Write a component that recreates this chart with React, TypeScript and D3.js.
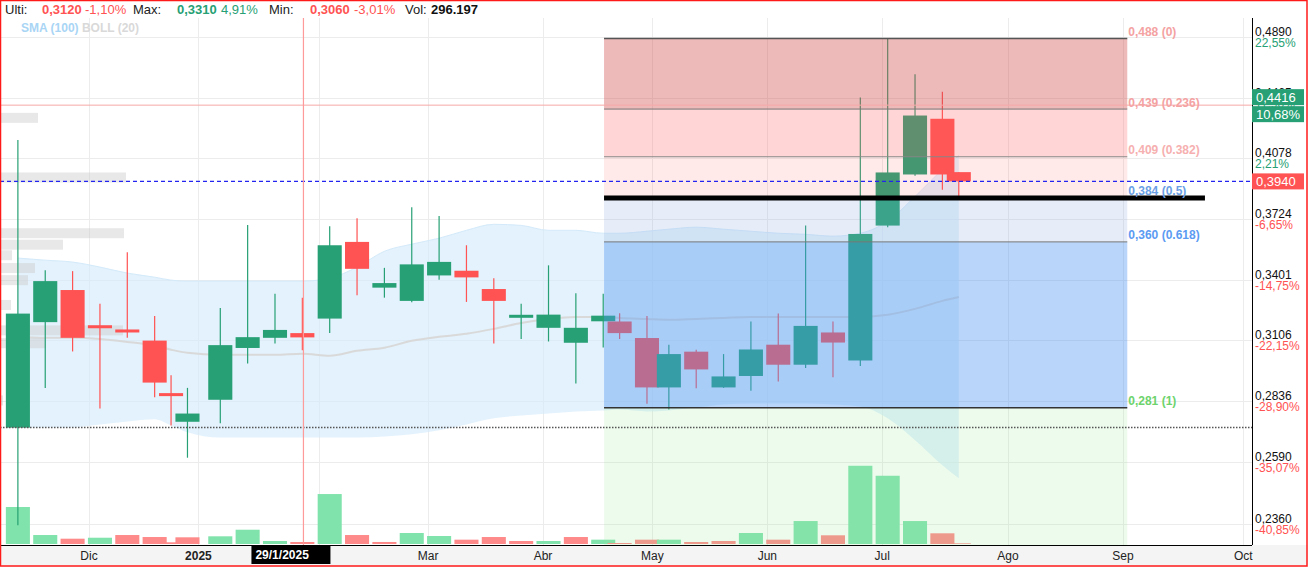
import React from 'react';
import * as d3 from 'd3';

// ---------- DATA ----------
// trading-day index (0 = 2 Dec 2024) of each weekly candle
const weekIdx = [-13, -8, -3, 2, 7, 12, 15, 18, 24, 29, 34, 39, 44, 49, 54, 59, 64, 69, 74, 79, 84, 89, 94, 97, 102, 106, 111, 116, 121, 126, 131, 136, 141, 146, 151, 156, 159];
const opens = [0.2726, 0.3192, 0.3349, 0.3172, 0.3152, 0.3105, 0.2866, 0.2750, 0.2842, 0.3071, 0.3118, 0.3140, 0.3209, 0.3599, 0.3361, 0.3295, 0.3423, 0.3447, 0.3354, 0.3219, 0.3165, 0.3095, 0.3196, 0.3195, 0.3117, 0.2895, 0.3054, 0.2895, 0.2945, 0.3086, 0.2995, 0.3143, 0.3014, 0.3688, 0.3981, 0.4327, 0.3995];
const highs = [0.4192, 0.3450, 0.3445, 0.3281, 0.3544, 0.3222, 0.2948, 0.2893, 0.3260, 0.3691, 0.3331, 0.3310, 0.3684, 0.3728, 0.3462, 0.3791, 0.3741, 0.3581, 0.3409, 0.3281, 0.3475, 0.3333, 0.3331, 0.3235, 0.3222, 0.3086, 0.3063, 0.3043, 0.3195, 0.3233, 0.3689, 0.3195, 0.4467, 0.4880, 0.4625, 0.4505, 0.3995];
const lows = [0.2356, 0.2893, 0.3055, 0.2805, 0.3118, 0.2853, 0.2735, 0.2606, 0.2744, 0.3000, 0.3092, 0.3060, 0.3140, 0.3323, 0.3311, 0.3288, 0.3401, 0.3290, 0.3092, 0.3112, 0.3101, 0.2912, 0.3073, 0.3112, 0.2825, 0.2801, 0.2891, 0.2893, 0.2881, 0.2921, 0.2980, 0.2939, 0.2989, 0.3679, 0.3973, 0.3891, 0.3852];
const closes = [0.3233, 0.3394, 0.3118, 0.3168, 0.3148, 0.2916, 0.2862, 0.2784, 0.3084, 0.3121, 0.3155, 0.3120, 0.3581, 0.3457, 0.3384, 0.3480, 0.3493, 0.3413, 0.3295, 0.3221, 0.3228, 0.3165, 0.3223, 0.3140, 0.2895, 0.3043, 0.2974, 0.2943, 0.3064, 0.2995, 0.3174, 0.3096, 0.3642, 0.3993, 0.4348, 0.3981, 0.3940];
// volume in thousands
const volumes = [5480, 1330, 785, 930, 1330, 1035, 250, 990, 1140, 2115, 445, 296, 7400, 1330, 300, 1630, 1185, 640, 1035, 445, 445, 1035, 640, 150, 640, 640, 296, 445, 1630, 640, 3400, 1290, 11590, 10110, 3400, 1585, 100];
const sma100 = [0.3123, 0.3118, 0.3118, 0.3113, 0.3099, 0.3081, 0.3063, 0.3049, 0.3040, 0.3040, 0.3040, 0.3045, 0.3035, 0.3058, 0.3072, 0.3104, 0.3123, 0.3137, 0.3160, 0.3188, 0.3207, 0.3217, 0.3217, 0.3212, 0.3207, 0.3203, 0.3207, 0.3212, 0.3217, 0.3217, 0.3217, 0.3217, 0.3217, 0.3227, 0.3256, 0.3295, 0.3314];
const bollUpper = [0.3513, 0.3502, 0.3492, 0.3466, 0.3435, 0.3414, 0.3399, 0.3394, 0.3394, 0.3394, 0.3394, 0.3394, 0.3409, 0.3466, 0.3549, 0.3587, 0.3619, 0.3662, 0.3695, 0.3689, 0.3662, 0.3662, 0.3646, 0.3646, 0.3657, 0.3668, 0.3679, 0.3668, 0.3657, 0.3646, 0.3640, 0.3630, 0.3646, 0.3712, 0.3852, 0.4010, 0.4095];
const bollLower = [0.2727, 0.2727, 0.2727, 0.2739, 0.2751, 0.2760, 0.2735, 0.2707, 0.2686, 0.2686, 0.2686, 0.2686, 0.2686, 0.2686, 0.2690, 0.2699, 0.2715, 0.2739, 0.2764, 0.2776, 0.2784, 0.2793, 0.2797, 0.2801, 0.2793, 0.2797, 0.2809, 0.2822, 0.2826, 0.2826, 0.2826, 0.2822, 0.2813, 0.2764, 0.2675, 0.2577, 0.2527];

// price axis ticks
const priceTicks = [0.2360, 0.2590, 0.2836, 0.3106, 0.3401, 0.3724, 0.4078, 0.4465, 0.4890];
const priceTickLabels = ['0,2360', '0,2590', '0,2836', '0,3106', '0,3401', '0,3724', '0,4078', '0,4465', '0,4890'];
const pctTickLabels = ['-40,85%', '-35,07%', '-28,90%', '-22,15%', '-14,75%', '-6,65%', '2,21%', '11,90%', '22,55%'];

// month ticks (trading-day index)
const monthIdx = [0, 20, 42, 62, 83, 103, 124, 145, 168, 189, 211];
const monthLabels = ['Dic', '2025', 'Feb', 'Mar', 'Abr', 'May', 'Jun', 'Jul', 'Ago', 'Sep', 'Oct'];

// fibonacci retracement
const fibHigh = 0.4879;
const fibLow = 0.2808;
const fibLevels = [0, 0.236, 0.382, 0.5, 0.618, 1];
const fibStartIdx = 94.15;
const fibEndIdx = 189.8;
const fibThickEndIdx = 204;

// volume-by-price profile
const profilePrices = [0.4333, 0.3963, 0.3646, 0.3584, 0.3528, 0.3461, 0.3399, 0.3275, 0.3153, 0.3093, 0.2839];
const profileVolumes = [380, 1260, 1240, 630, 120, 350, 280, 110, 1230, 460, 30];

const lastPrice = 0.394;
const markerPrice = 0.4416;
const markerPct = '10,68%';
const basePrice = 0.2726;
const crossIdx = 39.2;
const crossLabel = '29/1/2025';

const headerLabels = ['Ulti:', 'Max:', 'Min:', 'Vol:'];
const headerValues = ['0,3120', '0,3310', '0,3060', '296.197'];
const headerPcts = ['-1,10%', '4,91%', '-3,01%', ''];

// ---------- STYLE ----------
const W = 1308;
const H = 567;
const plotRight = 1252;
const plotTop = 18;
const plotBottom = 545;
const GREEN = '#26a074';
const RED = '#ff5252';
const FONT = 'Liberation Sans, Arial, sans-serif';

const fmt = (v: number, d: number) => v.toFixed(d).replace('.', ',');

export default function App() {
  const x = d3.scaleLinear().domain([-16.27, 212.6]).range([0, plotRight]);
  const y = d3.scaleLog().domain([0.236, 0.489]).range([524, 37]);
  const yVol = d3.scaleLinear().domain([0, 12000]).range([544, 463]);
  const profW = d3.scaleLinear().domain([0, 1300]).range([0, 130]);

  const bodyW = x(4.4) - x(0);
  const n = weekIdx.length;
  const ids = d3.range(n);

  const bandArea = d3
    .area<number>()
    .x((i) => x(weekIdx[i]))
    .y0((i) => y(bollLower[i]))
    .y1((i) => y(bollUpper[i]))
    .curve(d3.curveMonotoneX);
  const upperLine = d3
    .line<number>()
    .x((i) => x(weekIdx[i]))
    .y((i) => y(bollUpper[i]))
    .curve(d3.curveMonotoneX);
  const smaLine = d3
    .line<number>()
    .x((i) => x(weekIdx[i]))
    .y((i) => y(sma100[i]))
    .curve(d3.curveMonotoneX);

  const fibPrice = (l: number) => fibHigh - l * (fibHigh - fibLow);
  const fx0 = x(fibStartIdx);
  const fx1 = x(fibEndIdx);
  const zoneFills = [
    'rgba(210,80,80,0.40)',
    'rgba(255,100,100,0.27)',
    'rgba(255,100,100,0.14)',
    'rgba(140,175,225,0.22)',
    'rgba(80,150,240,0.40)',
  ];
  const lineStyles = [
    { c: '#555', w: 1.3 },
    { c: '#777', w: 1 },
    { c: '#888', w: 1 },
    { c: '#000', w: 5 },
    { c: '#777', w: 1 },
    { c: '#333', w: 1.5 },
  ];
  const labelColors = ['#f4a2a2', '#f4a2a2', '#f6b0b0', '#6a9fe6', '#5b9bf2', '#6dd36d'];

  const headerX = [[5, 42, 85], [133, 177, 221], [269, 310, 354], [405, 431, 0]];
  const headerColors = [RED, GREEN, RED, '#111'];

  return (
    <svg width={W} height={H} style={{ position: 'absolute', left: 0, top: 0, background: '#fff' }} fontFamily={FONT}>
      <defs>
        <clipPath id="plot">
          <rect x={0} y={plotTop} width={plotRight} height={plotBottom - plotTop} />
        </clipPath>
      </defs>
      <rect x={0} y={0} width={W} height={H} fill="#fff" />

      {/* grid */}
      <g stroke="#ececec" strokeWidth={1}>
        {priceTicks.map((p, i) => (
          <line key={'h' + i} x1={0} x2={plotRight} y1={Math.round(y(p)) + 0.5} y2={Math.round(y(p)) + 0.5} />
        ))}
        {monthIdx.map((m, i) => (
          <line key={'v' + i} x1={Math.round(x(m)) + 0.5} x2={Math.round(x(m)) + 0.5} y1={plotTop} y2={plotBottom} />
        ))}
      </g>

      <g clipPath="url(#plot)">
        {/* bollinger band */}
        <path d={bandArea(ids) || ''} fill="#d2eafa" fillOpacity={0.62} />
        <path d={upperLine(ids) || ''} fill="none" stroke="#d4eafa" strokeWidth={1} />
        {/* sma */}
        <path d={smaLine(ids) || ''} fill="none" stroke="#d9d9d9" strokeWidth={2} />

        {/* volume profile */}
        {profilePrices.map((p, i) => (
          <rect key={'pf' + i} x={0} y={y(p) - 5} width={profW(profileVolumes[i])} height={10} fill="rgba(205,205,205,0.45)" />
        ))}

        {/* volume bars */}
        {ids.map((i) => {
          const up = i === 0 || closes[i] >= closes[i - 1];
          const cx = x(weekIdx[i]);
          return (
            <rect
              key={'vb' + i}
              x={cx - bodyW / 2}
              y={yVol(volumes[i])}
              width={bodyW}
              height={yVol(0) - yVol(volumes[i])}
              fill={up ? '#81e3ac' : '#ff8a8a'}
            />
          );
        })}

        {/* candles */}
        {ids.map((i) => {
          const up = closes[i] >= opens[i];
          const col = up ? GREEN : RED;
          const cx = x(weekIdx[i]);
          const top = y(Math.max(opens[i], closes[i]));
          const bot = y(Math.min(opens[i], closes[i]));
          let h = bot - top;
          let t = top;
          if (h < 3) {
            t = (top + bot) / 2 - 1.5;
            h = 3;
          }
          return (
            <g key={'c' + i}>
              <line x1={cx} x2={cx} y1={y(highs[i])} y2={y(lows[i])} stroke={col} strokeWidth={1.2} />
              <rect x={cx - bodyW / 2} y={t} width={bodyW} height={h} fill={col} />
            </g>
          );
        })}

        {/* fibonacci zones */}
        {fibLevels.slice(0, -1).map((l, i) => {
          const y0 = y(fibPrice(l));
          const y1 = y(fibPrice(fibLevels[i + 1]));
          return <rect key={'fz' + i} x={fx0} y={y0} width={fx1 - fx0} height={y1 - y0} fill={zoneFills[i]} />;
        })}
        <rect x={fx0} y={y(fibLow)} width={fx1 - fx0} height={plotBottom - y(fibLow)} fill="rgba(150,230,150,0.17)" />
        {fibLevels.map((l, i) => {
          const yy = y(fibPrice(l));
          const xe = l === 0.5 ? x(fibThickEndIdx) : fx1;
          return <line key={'fl' + i} x1={fx0} x2={xe} y1={yy} y2={yy} stroke={lineStyles[i].c} strokeWidth={lineStyles[i].w} />;
        })}

        {/* horizontal reference lines */}
        <line x1={0} x2={plotRight} y1={y(markerPrice)} y2={y(markerPrice)} stroke="#f7a8a8" strokeWidth={1} />
        <line x1={0} x2={plotRight} y1={y(lastPrice)} y2={y(lastPrice)} stroke="#2424f0" strokeWidth={1.2} strokeDasharray="4 3" />
        <line x1={0} x2={plotRight} y1={y(basePrice)} y2={y(basePrice)} stroke="#555" strokeWidth={1.5} strokeDasharray="1.5 1.5" />

        {/* crosshair */}
        <line x1={x(crossIdx)} x2={x(crossIdx)} y1={plotTop} y2={plotBottom} stroke="#ff9a9a" strokeWidth={1.2} />
      </g>

      {/* fib labels */}
      {fibLevels.map((l, i) => (
        <text key={'ft' + i} x={fx1 + 1} y={y(fibPrice(l)) - 2.5} fontSize={12} fontWeight="bold" fill={labelColors[i]}>
          {`${fmt(fibPrice(l), 3)} (${l})`}
        </text>
      ))}

      {/* axes */}
      <rect x={0} y={plotBottom} width={W} height={H - plotBottom} fill="#f4f4f4" />
      <line x1={0} x2={plotRight} y1={plotBottom + 0.5} y2={plotBottom + 0.5} stroke="#000" strokeWidth={1} />
      <line x1={plotRight + 0.5} x2={plotRight + 0.5} y1={plotTop} y2={plotBottom} stroke="#000" strokeWidth={1} />

      {priceTicks.map((p, i) => (
        <g key={'pt' + i}>
          <text x={plotRight + 3} y={y(p) - 1} fontSize={12} fill="#111">
            {priceTickLabels[i]}
          </text>
          <text x={plotRight + 3} y={y(p) + 10} fontSize={12} fill={pctTickLabels[i].startsWith('-') ? RED : GREEN}>
            {pctTickLabels[i]}
          </text>
        </g>
      ))}

      {monthIdx.map((m, i) => (
        <text
          key={'ml' + i}
          x={x(m)}
          y={560}
          fontSize={12}
          textAnchor="middle"
          fill="#222"
          fontWeight={monthLabels[i] === '2025' ? 'bold' : 'normal'}
        >
          {monthLabels[i]}
        </text>
      ))}

      {/* crosshair date label */}
      <rect x={x(crossIdx) - 52} y={546} width={79} height={18} fill="#000" />
      <text x={x(crossIdx) - 48} y={559} fontSize={12} fontWeight="bold" fill="#fff">
        {crossLabel}
      </text>

      {/* price tags */}
      <rect x={plotRight} y={y(markerPrice) - 16} width={52} height={16} fill={GREEN} />
      <text x={plotRight + 4} y={y(markerPrice) - 3.5} fontSize={13} fill="#fff">
        {fmt(markerPrice, 4)}
      </text>
      <rect x={plotRight} y={y(markerPrice) + 1} width={52} height={16} fill={GREEN} />
      <text x={plotRight + 4} y={y(markerPrice) + 13.5} fontSize={13} fill="#fff">
        {markerPct}
      </text>
      <rect x={plotRight} y={y(lastPrice) - 8} width={52} height={16} fill={RED} />
      <text x={plotRight + 4} y={y(lastPrice) + 4.5} fontSize={13} fill="#fff">
        {fmt(lastPrice, 4)}
      </text>

      {/* header */}
      <rect x={0} y={0} width={W} height={plotTop - 1} fill="#fff" />
      {headerLabels.map((lab, i) => (
        <text key={'hd' + i} y={14} fontSize={13}>
          <tspan x={headerX[i][0]} fill="#222">
            {lab}
          </tspan>
          <tspan x={headerX[i][1]} fill={headerColors[i]} fontWeight="bold">
            {headerValues[i]}
          </tspan>
          {headerPcts[i] && (
            <tspan x={headerX[i][2]} fill={headerColors[i]}>
              {headerPcts[i]}
            </tspan>
          )}
        </text>
      ))}
      <text x={21} y={32} fontSize={12} fontWeight="bold">
        <tspan fill="#a9d5f5">SMA (100)</tspan>
        <tspan fill="#d9d9d9"> BOLL (20)</tspan>
      </text>

      {/* frame */}
      <rect x={0.5} y={0.5} width={W - 1.5} height={H - 1.5} fill="none" stroke="#ff1a1a" strokeWidth={1.5} />
    </svg>
  );
}
